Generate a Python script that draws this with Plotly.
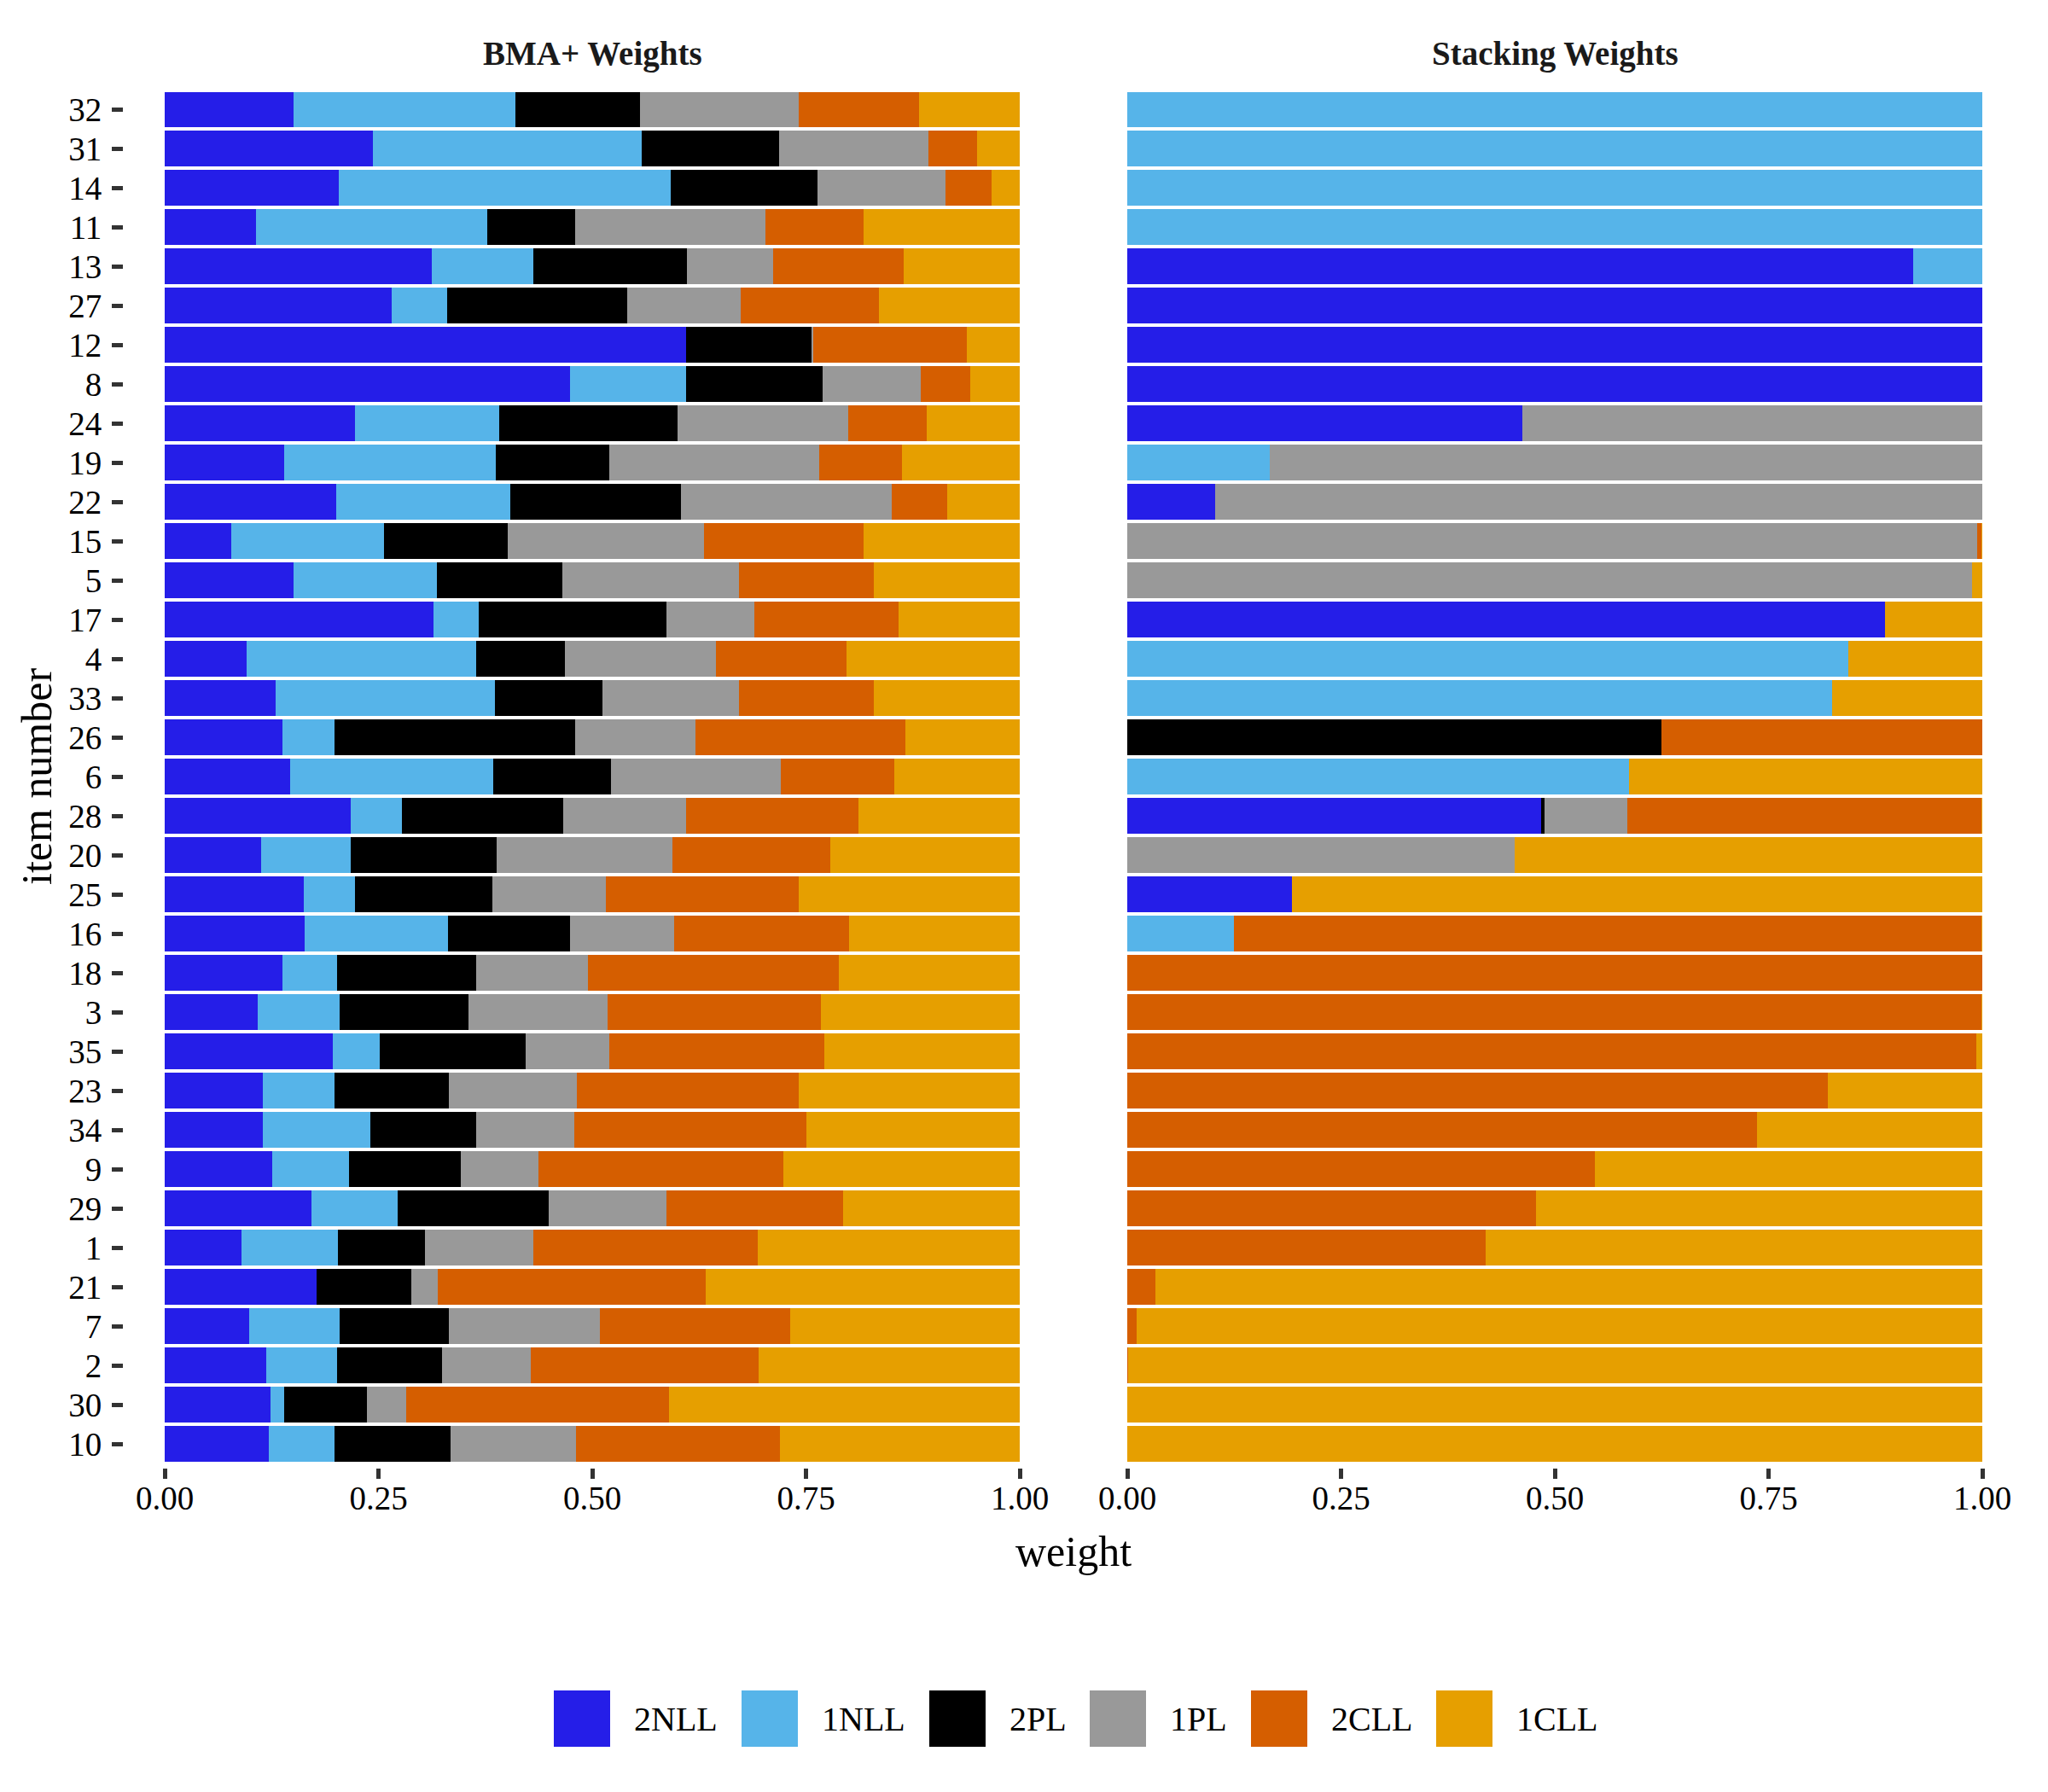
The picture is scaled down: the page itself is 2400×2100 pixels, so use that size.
import plotly.graph_objects as go

W, H = 2400, 2100

# ---------------- data ----------------
items = ["32", "31", "14", "11", "13", "27", "12", "8", "24", "19", "22", "15",
         "5", "17", "4", "33", "26", "6", "28", "20", "25", "16", "18", "3",
         "35", "23", "34", "9", "29", "1", "21", "7", "2", "30", "10"]

models = ["2NLL", "1NLL", "2PL", "1PL", "2CLL", "1CLL"]
colors = ["#251EE8", "#56B4E9", "#000000", "#999999", "#D55E00", "#E69F00"]

# BMA+ weights (per item, same order as `items`)
bma_2NLL = [0.151, 0.244, 0.204, 0.107, 0.312, 0.265, 0.610, 0.474, 0.223, 0.140, 0.201, 0.078,
            0.151, 0.314, 0.096, 0.130, 0.138, 0.147, 0.218, 0.113, 0.163, 0.164, 0.138, 0.109,
            0.197, 0.115, 0.115, 0.126, 0.172, 0.090, 0.178, 0.099, 0.119, 0.124, 0.122]
bma_1NLL = [0.259, 0.314, 0.388, 0.270, 0.119, 0.065, 0.000, 0.136, 0.168, 0.247, 0.203, 0.178,
            0.167, 0.053, 0.268, 0.256, 0.061, 0.237, 0.059, 0.105, 0.060, 0.167, 0.064, 0.096,
            0.054, 0.084, 0.126, 0.090, 0.100, 0.113, 0.000, 0.106, 0.083, 0.016, 0.077]
bma_2PL = [0.146, 0.161, 0.171, 0.103, 0.180, 0.211, 0.146, 0.159, 0.209, 0.133, 0.200, 0.145,
           0.147, 0.220, 0.104, 0.126, 0.281, 0.138, 0.189, 0.170, 0.160, 0.143, 0.162, 0.150,
           0.171, 0.133, 0.123, 0.130, 0.177, 0.101, 0.110, 0.127, 0.122, 0.097, 0.135]
bma_1PL = [0.186, 0.174, 0.150, 0.223, 0.101, 0.133, 0.002, 0.115, 0.199, 0.245, 0.246, 0.230,
           0.207, 0.103, 0.177, 0.160, 0.141, 0.199, 0.144, 0.206, 0.133, 0.122, 0.131, 0.163,
           0.098, 0.150, 0.115, 0.091, 0.138, 0.127, 0.031, 0.177, 0.104, 0.045, 0.147]
bma_2CLL = [0.140, 0.057, 0.054, 0.114, 0.152, 0.161, 0.180, 0.058, 0.092, 0.097, 0.065, 0.186,
            0.157, 0.168, 0.152, 0.157, 0.245, 0.132, 0.201, 0.184, 0.226, 0.204, 0.293, 0.249,
            0.251, 0.260, 0.271, 0.287, 0.206, 0.263, 0.314, 0.223, 0.267, 0.308, 0.239]
bma_1CLL = [0.118, 0.050, 0.033, 0.183, 0.136, 0.165, 0.062, 0.058, 0.109, 0.138, 0.085, 0.183,
            0.171, 0.142, 0.203, 0.171, 0.134, 0.147, 0.189, 0.222, 0.258, 0.200, 0.212, 0.233,
            0.229, 0.258, 0.250, 0.276, 0.207, 0.306, 0.367, 0.268, 0.305, 0.410, 0.280]

# Stacking weights (per item, same order as `items`)
stk_2NLL = [0.000, 0.000, 0.000, 0.000, 0.919, 1.000, 1.000, 1.000, 0.462, 0.000, 0.103, 0.000,
            0.000, 0.886, 0.000, 0.000, 0.000, 0.000, 0.484, 0.000, 0.193, 0.000, 0.000, 0.000,
            0.000, 0.000, 0.000, 0.000, 0.000, 0.000, 0.000, 0.000, 0.000, 0.000, 0.000]
stk_1NLL = [1.000, 1.000, 1.000, 1.000, 0.081, 0.000, 0.000, 0.000, 0.000, 0.167, 0.000, 0.000,
            0.000, 0.000, 0.843, 0.824, 0.000, 0.587, 0.000, 0.000, 0.000, 0.125, 0.000, 0.000,
            0.000, 0.000, 0.000, 0.000, 0.000, 0.000, 0.000, 0.000, 0.000, 0.000, 0.000]
stk_2PL = [0.000, 0.000, 0.000, 0.000, 0.000, 0.000, 0.000, 0.000, 0.000, 0.000, 0.000, 0.000,
           0.000, 0.000, 0.000, 0.000, 0.625, 0.000, 0.004, 0.000, 0.000, 0.000, 0.000, 0.000,
           0.000, 0.000, 0.000, 0.000, 0.000, 0.000, 0.000, 0.000, 0.000, 0.000, 0.000]
stk_1PL = [0.000, 0.000, 0.000, 0.000, 0.000, 0.000, 0.000, 0.000, 0.538, 0.833, 0.897, 0.994,
           0.988, 0.000, 0.000, 0.000, 0.000, 0.000, 0.097, 0.453, 0.000, 0.000, 0.000, 0.000,
           0.000, 0.000, 0.000, 0.000, 0.000, 0.000, 0.000, 0.000, 0.000, 0.000, 0.000]
stk_2CLL = [0.000, 0.000, 0.000, 0.000, 0.000, 0.000, 0.000, 0.000, 0.000, 0.000, 0.000, 0.005,
            0.000, 0.000, 0.000, 0.000, 0.375, 0.000, 0.414, 0.000, 0.000, 0.874, 1.000, 0.999,
            0.993, 0.819, 0.737, 0.547, 0.478, 0.419, 0.033, 0.011, 0.001, 0.000, 0.000]
stk_1CLL = [0.000, 0.000, 0.000, 0.000, 0.000, 0.000, 0.000, 0.000, 0.000, 0.000, 0.000, 0.001,
            0.012, 0.114, 0.157, 0.176, 0.000, 0.413, 0.001, 0.547, 0.807, 0.001, 0.000, 0.001,
            0.007, 0.181, 0.263, 0.453, 0.522, 0.581, 0.967, 0.989, 0.999, 1.000, 1.000]

bma = [bma_2NLL, bma_1NLL, bma_2PL, bma_1PL, bma_2CLL, bma_1CLL]
stk = [stk_2NLL, stk_1NLL, stk_2PL, stk_1PL, stk_2CLL, stk_1CLL]

panel_titles = ["BMA+ Weights", "Stacking Weights"]
xtick_vals = [0, 0.25, 0.5, 0.75, 1.0]
xtick_text = ["0.00", "0.25", "0.50", "0.75", "1.00"]

# ---------------- figure ----------------
FONT = "Liberation Serif, Times New Roman, serif"
fig = go.Figure()

for i, m in enumerate(models):
    fig.add_trace(go.Bar(x=bma[i], y=items, orientation="h", name=m,
                         marker=dict(color=colors[i], line=dict(width=0)),
                         width=0.9, xaxis="x", yaxis="y", showlegend=False,
                         hovertemplate="item %{y}<br>" + m + ": %{x:.3f}<extra></extra>"))
for i, m in enumerate(models):
    fig.add_trace(go.Bar(x=stk[i], y=items, orientation="h", name=m,
                         marker=dict(color=colors[i], line=dict(width=0)),
                         width=0.9, xaxis="x2", yaxis="y2", showlegend=False,
                         hovertemplate="item %{y}<br>" + m + ": %{x:.3f}<extra></extra>"))

def px(x):
    return x / W

def py(y):
    return 1 - y / H

n = len(items)
cat_order = list(reversed(items))  # bottom -> top
yrange = [-0.6, n - 1 + 0.6]
ydom = [py(1719.6), py(100.6)]

axis_font = dict(family=FONT, size=39, color="#000000")
xcommon = dict(range=[0, 1], tickmode="array", tickvals=xtick_vals, ticktext=xtick_text,
               ticks="outside", ticklen=12, tickwidth=5, tickcolor="#333333",
               ticklabelstandoff=-10,
               showgrid=False, zeroline=False, showline=False, tickfont=axis_font,
               fixedrange=True, automargin=False)

fig.update_layout(
    template="none",
    width=W, height=H,
    margin=dict(l=0, r=0, t=0, b=0, pad=0, autoexpand=False),
    paper_bgcolor="white", plot_bgcolor="white",
    barmode="stack",
    showlegend=False,
    font=dict(family=FONT, color="#000000"),
    xaxis=dict(domain=[px(193), px(1195)], anchor="y", **xcommon),
    xaxis2=dict(domain=[px(1321), px(2323)], anchor="y2", **xcommon),
    yaxis=dict(domain=ydom, type="category", categoryorder="array", categoryarray=cat_order,
               tickmode="array", tickvals=items, ticktext=items,
               range=yrange, anchor="free", position=px(144), side="left",
               ticks="outside", ticklen=13, tickwidth=5, tickcolor="#333333",
               ticklabelstandoff=4,
               showgrid=False, zeroline=False, showline=False, tickfont=axis_font,
               fixedrange=True, automargin=False),
    yaxis2=dict(domain=ydom, type="category", categoryorder="array", categoryarray=cat_order,
                range=yrange, anchor="x2", showticklabels=False, ticks="",
                showgrid=False, zeroline=False, showline=False, fixedrange=True,
                automargin=False),
)

annotations = []
# panel titles
for t, cx in zip(panel_titles, [694, 1822]):
    annotations.append(dict(text="<b>" + t + "</b>", x=px(cx), y=py(63), xref="paper", yref="paper",
                            showarrow=False, xanchor="center", yanchor="middle",
                            font=dict(family=FONT, size=39, color="#1a1a1a")))
# axis titles
annotations.append(dict(text="weight", x=px(1258), y=py(1818), xref="paper", yref="paper",
                        showarrow=False, xanchor="center", yanchor="middle",
                        font=dict(family=FONT, size=50, color="#000000")))
annotations.append(dict(text="item number", x=px(43), y=py(910), xref="paper", yref="paper",
                        showarrow=False, xanchor="center", yanchor="middle", textangle=-90,
                        font=dict(family=FONT, size=50, color="#000000")))

# legend (drawn manually to match the large square keys)
key_left = [649, 869, 1089, 1277, 1466, 1683]
key_size = 66
key_top = 1981
shapes = []
for m, c, kx in zip(models, colors, key_left):
    shapes.append(dict(type="rect", xref="paper", yref="paper",
                       x0=px(kx), x1=px(kx + key_size), y0=py(key_top + key_size), y1=py(key_top),
                       fillcolor=c, line=dict(width=0)))
    annotations.append(dict(text=m, x=px(kx + key_size + 26), y=py(key_top + key_size / 2),
                            xref="paper", yref="paper", showarrow=False,
                            xanchor="left", yanchor="middle",
                            font=dict(family=FONT, size=40, color="#000000")))

fig.update_layout(annotations=annotations, shapes=shapes)

fig.write_html("out.html")
